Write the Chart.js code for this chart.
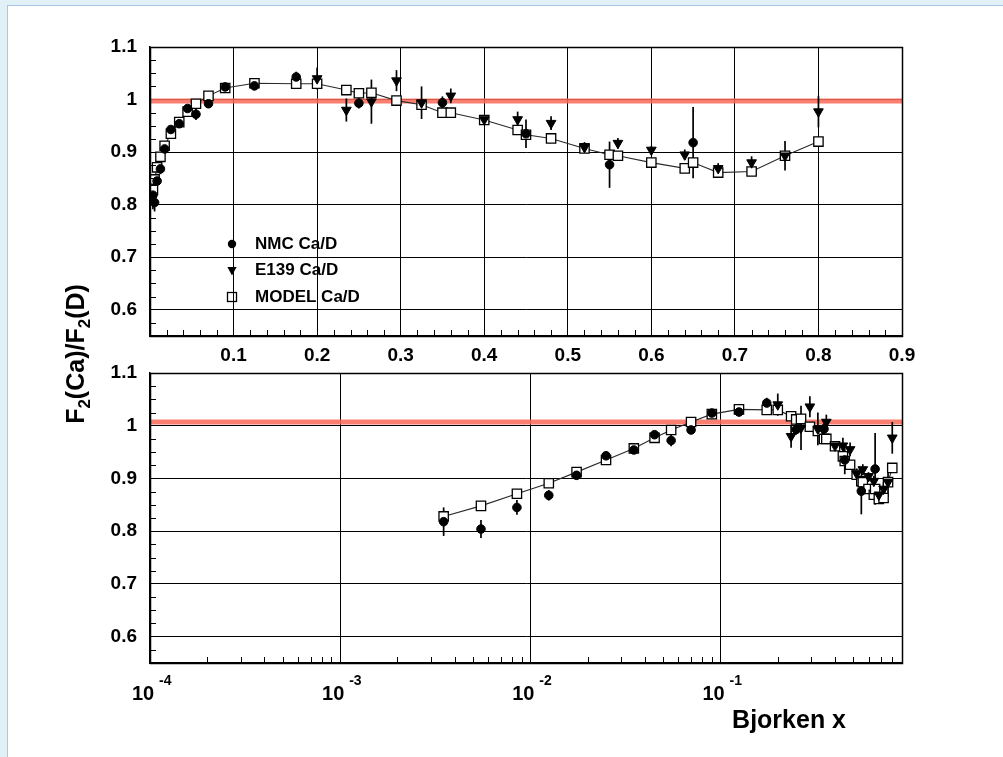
<!DOCTYPE html>
<html><head><meta charset="utf-8">
<script src="https://cdn.jsdelivr.net/npm/chart.js@4.4.0/dist/chart.umd.min.js"></script>
<style>
html,body{margin:0;padding:0;background:#e2f0f8;width:1003px;height:757px;overflow:hidden}
#panel{position:absolute;left:7px;top:5px;width:1000px;height:760px;background:#fff;border-left:1px solid #a9c6e8;border-top:1px solid #a9c6e8}
canvas{position:absolute;left:0;top:0}
</style></head><body>
<div id="panel"></div>
<canvas id="topChart" width="1003" height="757"></canvas>
<canvas id="botChart" width="1003" height="757"></canvas>
<script>
// ---- data ----
const nmcX   = [0.0035,0.0055,0.0085,0.0125,0.0175,0.025,0.035,0.045,0.055,0.07,0.09,0.125,0.175,0.25,0.35,0.45,0.55,0.65];
const nmcY   = [0.818,0.804,0.845,0.868,0.906,0.943,0.954,0.983,0.972,0.992,1.024,1.026,1.043,0.993,0.994,0.935,0.876,0.918];
const nmcErr = [0.027,0.017,0.014,0.010,0.008,0.007,0.007,0.007,0.011,0.008,0.008,0.008,0.010,0.010,0.012,0.027,0.044,0.068];

const e139X   = [0.2,0.235,0.265,0.295,0.325,0.36,0.4,0.44,0.48,0.52,0.56,0.6,0.64,0.68,0.72,0.76,0.8];
const e139Y   = [1.040,0.980,0.996,1.036,0.994,1.007,0.962,0.962,0.955,0.909,0.917,0.904,0.895,0.869,0.880,0.893,0.977];
const e139Err = [0.021,0.022,0.042,0.020,0.031,0.014,0.008,0.015,0.013,0.010,0.010,0.008,0.010,0.010,0.012,0.028,0.030];

const modelX = [0.0035,0.0055,0.0085,0.0125,0.0175,0.025,0.035,0.045,0.055,0.07,0.09,0.125,0.175,0.2,0.235,0.25,0.265,0.295,0.325,0.35,0.36,0.4,0.44,0.45,0.48,0.52,0.55,0.56,0.6,0.64,0.65,0.68,0.72,0.76,0.8];
const modelY = [0.828,0.848,0.871,0.891,0.912,0.935,0.957,0.977,0.992,1.007,1.022,1.031,1.030,1.030,1.018,1.012,1.013,0.998,0.990,0.975,0.975,0.961,0.942,0.933,0.926,0.907,0.895,0.893,0.880,0.869,0.880,0.861,0.863,0.893,0.920];

const refTop = 0.997;      // unity reference band, as drawn in upper panel
const refBottom = 1.007;   // as drawn in lower panel

const yTicks = [0.6,0.7,0.8,0.9,1,1.1];
const xTicksLinear = [0.1,0.2,0.3,0.4,0.5,0.6,0.7,0.8,0.9];
const xTicksLog = [1e-4,1e-3,1e-2,1e-1];
const legendLabels = ['NMC Ca/D','E139 Ca/D','MODEL Ca/D'];
const yTitleParts = [['F',0],['2',1],['(Ca)/F',0],['2',1],['(D)',0]];
const xTitle = 'Bjorken x';

const FONT = '"Liberation Sans", Arial, Helvetica, sans-serif';
const tickFont = {family:FONT, weight:'bold', size:19};

function pts(xs, ys){ return xs.map((x,i)=>({x:x, y:ys[i]})); }

function datasets(xmin, xmax, ref){
  return [
    {label:'ref', data:[{x:xmin,y:ref},{x:xmax,y:ref}], showLine:true, borderColor:'rgba(250,105,88,0.85)', borderWidth:5, pointRadius:0, order:10},
    {label:legendLabels[2], data:pts(modelX,modelY), showLine:true, borderColor:'#2a2a2a', borderWidth:1.1,
      pointStyle:'rect', pointRadius:6.6, pointBackgroundColor:'#fff', pointBorderColor:'#000', pointBorderWidth:1.3, order:5},
    {label:legendLabels[1], data:pts(e139X,e139Y), errs:e139Err, showLine:false, pointStyle:'triangle', rotation:180,
      pointRadius:5.6, pointBackgroundColor:'#000', pointBorderColor:'#000', pointBorderWidth:1, order:2},
    {label:legendLabels[0], data:pts(nmcX,nmcY), errs:nmcErr, showLine:false, pointStyle:'circle',
      pointRadius:4.3, pointBackgroundColor:'#000', pointBorderColor:'#000', pointBorderWidth:1, order:1}
  ];
}

// error bars drawn right after the reference band
const errPlugin = {
  id:'errbars',
  afterDatasetDraw(chart, args){
    if (chart.data.datasets[args.index].label !== 'ref') return;
    const ctx = chart.ctx, xs = chart.scales.x, ys = chart.scales.y;
    ctx.save();
    ctx.strokeStyle = '#000'; ctx.lineWidth = 1.7;
    chart.data.datasets.forEach(ds=>{
      if(!ds.errs) return;
      ds.data.forEach((p,i)=>{
        const px = xs.getPixelForValue(p.x);
        ctx.beginPath();
        ctx.moveTo(px, ys.getPixelForValue(p.y - ds.errs[i]));
        ctx.lineTo(px, ys.getPixelForValue(p.y + ds.errs[i]));
        ctx.stroke();
      });
    });
    ctx.restore();
  }
};

function drawYMinors(chart){
  const ctx = chart.ctx, ys = chart.scales.y, a = chart.chartArea;
  ctx.save(); ctx.strokeStyle='#000'; ctx.lineWidth=1;
  for(let k=22;k<=44;k++){
    if(k%4===0) continue;
    const py = Math.round(ys.getPixelForValue(k*0.025))+0.5;
    ctx.beginPath(); ctx.moveTo(a.left, py); ctx.lineTo(a.left+6, py); ctx.stroke();
  }
  ctx.restore();
}
function drawFrame(chart){
  const ctx = chart.ctx, a = chart.chartArea;
  ctx.save(); ctx.strokeStyle='#000'; ctx.lineWidth=1.5;
  ctx.strokeRect(Math.round(a.left)+0.5, Math.round(a.top)+0.5, Math.round(a.right-a.left), Math.round(a.bottom-a.top));
  ctx.restore();
}

const topPlugin = {
  id:'topdeco',
  afterDraw(chart){
    const ctx = chart.ctx, xs = chart.scales.x, a = chart.chartArea;
    drawFrame(chart);
    drawYMinors(chart);
    ctx.save(); ctx.strokeStyle='#000'; ctx.lineWidth=1;
    for(let k=1;k<45;k++){
      if(k%5===0) continue;
      const px = Math.round(xs.getPixelForValue(k*0.02))+0.5;
      ctx.beginPath(); ctx.moveTo(px, a.bottom); ctx.lineTo(px, a.bottom-6); ctx.stroke();
    }
    ctx.restore();
    // legend
    const ly = [244,270,297], lx = 232;
    ctx.save();
    ctx.fillStyle='#000'; ctx.strokeStyle='#000';
    ctx.beginPath(); ctx.arc(lx, ly[0], 4.2, 0, Math.PI*2); ctx.fill();
    ctx.beginPath(); ctx.moveTo(lx-4.6, ly[1]-3); ctx.lineTo(lx+4.6, ly[1]-3); ctx.lineTo(lx, ly[1]+5.5); ctx.closePath(); ctx.fill();
    ctx.lineWidth=1.3; ctx.strokeRect(lx-4.5, ly[2]-4.5, 9, 9);
    ctx.font = 'bold 17px '+FONT; ctx.textBaseline='middle'; ctx.textAlign='left';
    legendLabels.forEach((t,i)=>ctx.fillText(t, 255, ly[i]));
    // y title with subscripts
    const big = 'bold 25px '+FONT, small = 'bold 17px '+FONT;
    let total = 0;
    yTitleParts.forEach(p=>{ ctx.font = p[1]?small:big; total += ctx.measureText(p[0]).width; });
    ctx.translate(76, 354); ctx.rotate(-Math.PI/2);
    let cx = -total/2;
    ctx.textBaseline='alphabetic';
    yTitleParts.forEach(p=>{
      ctx.font = p[1]?small:big;
      ctx.fillText(p[0], cx, p[1]? 14 : 8);
      cx += ctx.measureText(p[0]).width;
    });
    ctx.restore();
  }
};

const botPlugin = {
  id:'botdeco',
  afterDraw(chart){
    const ctx = chart.ctx, xs = chart.scales.x, a = chart.chartArea;
    drawFrame(chart);
    drawYMinors(chart);
    ctx.save(); ctx.strokeStyle='#000'; ctx.lineWidth=1;
    for(let e=-4;e<0;e++){
      for(let m=2;m<=9;m++){
        const v = m*Math.pow(10,e);
        if(v>0.9) break;
        const px = Math.round(xs.getPixelForValue(v))+0.5;
        ctx.beginPath(); ctx.moveTo(px, a.bottom); ctx.lineTo(px, a.bottom-6); ctx.stroke();
      }
    }
    // log tick labels 10^n
    ctx.fillStyle='#000'; ctx.textBaseline='alphabetic';
    xTicksLog.forEach(v=>{
      const px = xs.getPixelForValue(v);
      const ex = Math.round(Math.log10(v));
      ctx.font = 'bold 20px '+FONT; ctx.textAlign='center';
      ctx.fillText('10', px-7, 700);
      ctx.font = 'bold 14px '+FONT; ctx.textAlign='left';
      ctx.fillText(String(ex), px+9, 685);
    });
    ctx.font = 'bold 25px '+FONT; ctx.textAlign='right';
    ctx.fillText(xTitle, 846, 728);
    ctx.restore();
  }
};

function yScale(){
  return {
    type:'linear', min:0.55, max:1.1,
    afterBuildTicks:s=>{ s.ticks = yTicks.map(v=>({value:v})); },
    afterFit:s=>{ s.width = 150; },
    grid:{color:'#000', lineWidth:1, drawTicks:false},
    border:{display:true, color:'#000', width:1.5},
    ticks:{font:tickFont, color:'#000', padding:13, callback:v=>String(+(+v).toFixed(1))}
  };
}

new Chart(document.getElementById('topChart'), {
  type:'scatter',
  data:{datasets:datasets(0,0.9,refTop)},
  options:{
    responsive:false, animation:false, events:[],
    layout:{padding:{left:0,right:101,top:47,bottom:757-336-30}},
    plugins:{legend:{display:false}, tooltip:{enabled:false}},
    scales:{
      x:{type:'linear', min:0, max:0.9,
        afterBuildTicks:s=>{ s.ticks = xTicksLinear.map(v=>({value:v})); },
        afterFit:s=>{ s.height = 30; },
        grid:{color:'#000', lineWidth:1, drawTicks:false},
        border:{display:true, color:'#000', width:1.5},
        ticks:{font:tickFont, color:'#000', padding:8, maxRotation:0, autoSkip:false, callback:v=>String(+(+v).toFixed(1))}
      },
      y:yScale()
    }
  },
  plugins:[errPlugin, topPlugin]
});

new Chart(document.getElementById('botChart'), {
  type:'scatter',
  data:{datasets:datasets(1e-4,0.9,refBottom)},
  options:{
    responsive:false, animation:false, events:[],
    layout:{padding:{left:0,right:101,top:373,bottom:757-663-30}},
    plugins:{legend:{display:false}, tooltip:{enabled:false}},
    scales:{
      x:{type:'logarithmic', min:1e-4, max:0.9,
        afterBuildTicks:s=>{ s.ticks = xTicksLog.slice(1).map(v=>({value:v})); },
        afterFit:s=>{ s.height = 30; },
        grid:{color:'#000', lineWidth:1, drawTicks:false},
        border:{display:true, color:'#000', width:1.5},
        ticks:{display:false}
      },
      y:yScale()
    }
  },
  plugins:[errPlugin, botPlugin]
});
</script>
</body></html>
